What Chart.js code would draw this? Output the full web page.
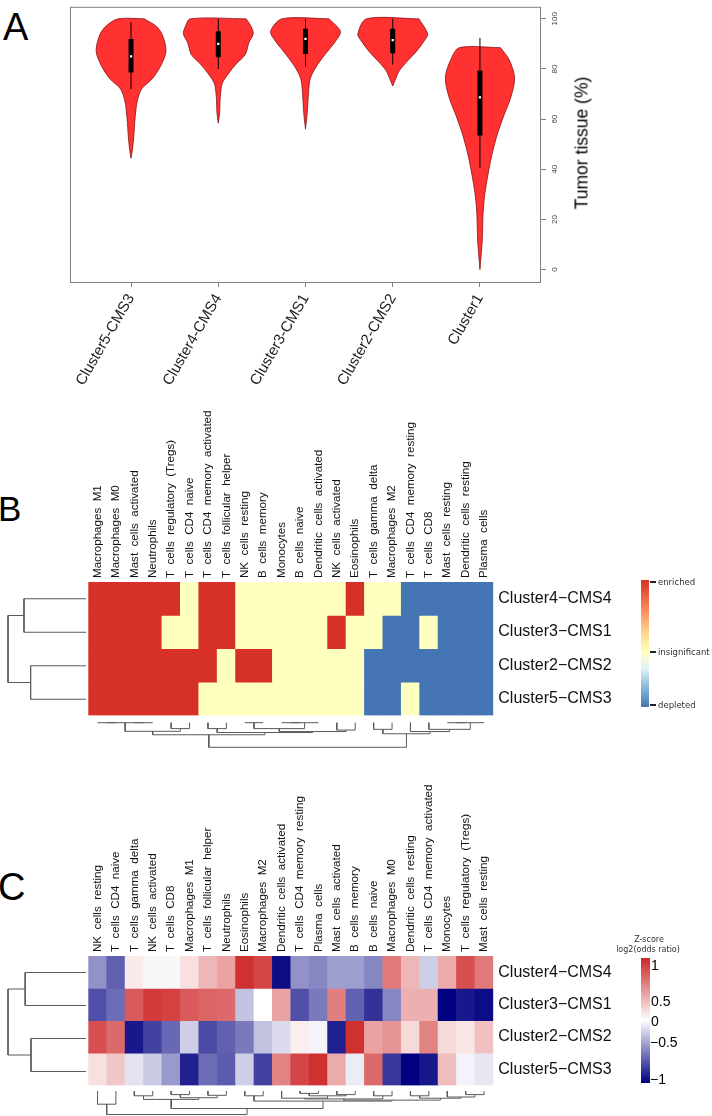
<!DOCTYPE html>
<html>
<head>
<meta charset="utf-8">
<title>Tumor tissue and immune cell enrichment by cluster</title>
<script src="https://cdn.jsdelivr.net/npm/chart.js@4.4.1/dist/chart.umd.min.js"></script>
<style>
  body { margin: 0; background: #fff; }
  #page { position: relative; width: 712px; height: 1116px; overflow: hidden; font-family: "Liberation Sans", Arial, sans-serif; color: #000; }
  #page canvas, #page .txt { position: absolute; }
  .letter { font-size: 38px; line-height: 1; }
  .mid { transform: translateY(-50%); line-height: 1; white-space: nowrap; }
  .leg { font-family: "DejaVu Sans", sans-serif; font-size: 8.5px; color: #333; }
  .tick { position: absolute; width: 6px; height: 1.5px; background: #222; }
</style>
</head>
<body>
<div id="page">
  <div class="txt letter" style="left:3px;top:8px">A</div>
  <canvas id="violins" width="712" height="400" style="left:0;top:0"></canvas>
  <div class="txt" style="left:582px;top:143px;transform:translate(-50%,-50%) rotate(-90deg);font-size:17.5px;white-space:nowrap">Tumor tissue (%)</div>

  <div class="txt letter" style="left:-2px;top:491px;font-size:35px">B</div>
  <canvas id="heatB" width="660" height="330" style="left:0;top:400px"></canvas>
  <canvas id="rowTreeB" width="88" height="134" style="left:0;top:582px"></canvas>
  <canvas id="colTreeB" width="500" height="32" style="left:0;top:718px"></canvas>
  <div class="txt" style="left:641px;top:580px;width:8px;height:127px;background:linear-gradient(to bottom,#d73027 0%,#fc8d59 24%,#fee090 44%,#ffffbf 57%,#e0f3f8 70%,#91bfdb 83%,#4575b4 100%)"></div>
  <div class="tick" style="left:650px;top:581px"></div>
  <div class="tick" style="left:650px;top:651px"></div>
  <div class="tick" style="left:650px;top:704px"></div>
  <div class="txt mid leg" style="left:658px;top:582px">enriched</div>
  <div class="txt mid leg" style="left:658px;top:652px">insignificant</div>
  <div class="txt mid leg" style="left:658px;top:705px">depleted</div>

  <div class="txt letter" style="left:-2px;top:868px">C</div>
  <canvas id="heatC" width="660" height="340" style="left:0;top:760px"></canvas>
  <canvas id="rowTreeC" width="88" height="132" style="left:0;top:956px"></canvas>
  <canvas id="colTreeC" width="500" height="30" style="left:0;top:1086px"></canvas>
  <div class="txt mid leg" style="left:649px;top:940px;font-size:8px;transform:translate(-50%,-50%)">Z-score</div>
  <div class="txt mid leg" style="left:648px;top:950px;font-size:8px;transform:translate(-50%,-50%)">log2(odds ratio)</div>
  <div class="txt" style="left:641px;top:958px;width:9px;height:125px;background:linear-gradient(to bottom,#cd2626 0%,#ffffff 50%,#000080 100%)"></div>
  <div class="txt mid" style="left:651px;top:965px;font-size:14px">1</div>
  <div class="txt mid" style="left:651px;top:1001px;font-size:14px">0.5</div>
  <div class="txt mid" style="left:651px;top:1021px;font-size:14px">0</div>
  <div class="txt mid" style="left:650px;top:1042px;font-size:14px">−0.5</div>
  <div class="txt mid" style="left:650px;top:1079px;font-size:14px">−1</div>
</div>

<script>
// ---- panel A: tumour tissue per cluster ----
const clusters = ['Cluster5-CMS3', 'Cluster4-CMS4', 'Cluster3-CMS1', 'Cluster2-CMS2', 'Cluster1'];
const tumorTicks = [0, 20, 40, 60, 80, 100];

// violin outlines: tumour tissue level (%) and density half width (share of category spacing)
const levelsCMS3 = [100, 97, 93.5, 87, 80.6, 76, 72, 67, 60.4, 53, 47.6, 44.4];
const widthsCMS3 = [0.15, 0.29, 0.36, 0.40, 0.33, 0.24, 0.12, 0.07, 0.046, 0.031, 0.015, 0];
const levelsCMS4 = [100, 96.7, 94, 90.4, 85.8, 82, 78.1, 74.2, 69, 62.5, 58.4];
const widthsCMS4 = [0.32, 0.38, 0.40, 0.35, 0.31, 0.205, 0.115, 0.045, 0.023, 0.015, 0];
const levelsCMS1 = [100, 95, 91.1, 85.9, 80.7, 76.1, 70.3, 62.5, 56];
const widthsCMS1 = [0.27, 0.40, 0.345, 0.226, 0.119, 0.054, 0.034, 0.02, 0];
const levelsCMS2 = [100, 94, 91.1, 87.2, 83.3, 79.4, 76.1, 73.2];
const widthsCMS2 = [0.30, 0.40, 0.358, 0.276, 0.172, 0.077, 0.034, 0];
const levelsC1 = [88.5, 83.7, 76.5, 68.7, 60.9, 53.1, 45.3, 37.5, 29.7, 21.9, 11.5, 0];
const widthsC1 = [0.236, 0.335, 0.397, 0.354, 0.268, 0.192, 0.134, 0.09, 0.054, 0.035, 0.026, 0];

const medians = [85, 90, 92, 91.5, 68.7];
const q1 = [78.6, 84.7, 86, 86.3, 53.5];
const q3 = [92, 95, 96, 96, 79.4];
const whiskLo = [72, 80, 81, 81.8, 40.5];
const whiskHi = [98.7, 100, 100, 100, 92.4];

// ---- panel B: enrichment (1 enriched, 0 insignificant, -1 depleted) ----
const cellsB = ['Macrophages M1', 'Macrophages M0', 'Mast cells activated', 'Neutrophils',
  'T cells regulatory (Tregs)', 'T cells CD4 naive', 'T cells CD4 memory activated', 'T cells follicular helper',
  'NK cells resting', 'B cells memory', 'Monocytes', 'B cells naive', 'Dendritic cells activated',
  'NK cells activated', 'Eosinophils', 'T cells gamma delta', 'Macrophages M2', 'T cells CD4 memory resting',
  'T cells CD8', 'Mast cells resting', 'Dendritic cells resting', 'Plasma cells'];
const rowsB = ['Cluster4−CMS4', 'Cluster3−CMS1', 'Cluster2−CMS2', 'Cluster5−CMS3'];
const enrichCMS4 = [1, 1, 1, 1, 1, 0, 1, 1, 0, 0, 0, 0, 0, 0, 1, 0, 0, -1, -1, -1, -1, -1];
const enrichCMS1 = [1, 1, 1, 1, 0, 0, 1, 1, 0, 0, 0, 0, 0, 1, 0, 0, -1, -1, 0, -1, -1, -1];
const enrichCMS2 = [1, 1, 1, 1, 1, 1, 1, 0, 1, 1, 0, 0, 0, 0, 0, -1, -1, -1, -1, -1, -1, -1];
const enrichCMS3 = [1, 1, 1, 1, 1, 1, 0, 0, 0, 0, 0, 0, 0, 0, 0, -1, -1, 0, -1, -1, -1, -1];

// ---- panel C: z-scored log2 odds ratio ----
const cellsC = ['NK cells resting', 'T cells CD4 naive', 'T cells gamma delta', 'NK cells activated',
  'T cells CD8', 'Macrophages M1', 'T cells follicular helper', 'Neutrophils', 'Eosinophils',
  'Macrophages M2', 'Dendritic cells activated', 'T cells CD4 memory resting', 'Plasma cells',
  'Mast cells activated', 'B cells memory', 'B cells naive', 'Macrophages M0', 'Dendritic cells resting',
  'T cells CD4 memory activated', 'Monocytes', 'T cells regulatory (Tregs)', 'Mast cells resting'];
const rowsC = ['Cluster4−CMS4', 'Cluster3−CMS1', 'Cluster2−CMS2', 'Cluster5−CMS3'];
const zCMS4 = [-0.45, -0.65, 0.1, -0.03, -0.03, 0.15, 0.35, 0.45, 1.0, 0.9, -1.0, -0.45, -0.5, -0.4, -0.4, -0.5, 0.65, 0.35, -0.2, 0.4, 0.85, 0.65];
const zCMS1 = [-0.72, -0.6, 0.8, 0.95, 0.92, 0.8, 0.75, 0.72, -0.25, 0, 0.45, -0.72, -0.55, 0.62, -0.65, -0.85, -0.5, 0.38, 0.38, -1.05, -0.95, -1.0];
const zCMS2 = [0.85, 0.72, -0.95, -0.78, -0.62, -0.2, -0.74, -0.65, -0.55, -0.25, -0.15, 0.08, -0.05, -0.92, 1.0, 0.45, 0.52, 0.18, 0.6, 0.18, 0.12, 0.3];
const zCMS3 = [0.15, 0.27, -0.12, -0.22, -0.42, -0.92, -0.6, -0.67, -0.2, -0.78, 0.6, 0.9, 1.0, 0.4, -0.08, 0.72, -0.82, -1.05, -0.95, 0.32, -0.05, -0.1];

// ---- dendrograms, hclust style: negative = leaf, positive = earlier merge ----
const rowTreeB = [[-1, -2, 0.795], [-3, -4, 0.71], [1, 2, 1]];
const colTreeB = [[-1, -2, 0], [-3, -4, 0], [1, 2, 0], [-5, -6, 0.24], [3, 4, 0.35], [-7, -8, 0.24],
  [-9, -10, 0], [-11, -12, 0], [8, -13, 0], [7, 9, 0.24], [-14, -15, 0.3], [10, 11, 0.36], [6, 12, 0.4],
  [5, 13, 0.49], [-16, -17, 0.27], [-20, -21, 0], [16, -22, 0], [-19, 17, 0.27], [-18, 18, 0.36],
  [15, 19, 0.45], [14, 20, 1]];
const rowTreeC = [[-1, -2, 0.78], [-3, -4, 0.705], [1, 2, 1]];
const colTreeC = [[-1, -2, 0.55], [-3, -4, 0.2], [-5, -6, 0.15], [-7, -8, 0.18], [3, 4, 0.28], [2, 5, 0.35],
  [-9, -10, 0.2], [-12, -13, 0.1], [-14, -15, 0.15], [8, 9, 0.2], [-11, 10, 0.3], [-16, -17, 0.2],
  [11, 12, 0.33], [-18, -19, 0.2], [-21, -22, 0.15], [-20, 15, 0.25], [14, 16, 0.3], [13, 17, 0.38],
  [7, 18, 0.42], [6, 19, 0.73], [1, 20, 0.98]];

const fontFamily = "'Liberation Sans', Arial, sans-serif";
const cellFont = 11.6;

// box round the plot area
const frame = {
  id: 'frame',
  afterDraw(chart) {
    const {ctx, chartArea: a} = chart;
    ctx.save();
    ctx.strokeStyle = '#808080';
    ctx.lineWidth = 1;
    ctx.strokeRect(a.left + 0.5, a.top + 0.5, a.right - a.left - 1, a.bottom - a.top - 1);
    ctx.restore();
  }
};

function violin(levels, widths, i) {
  const c = i + 1;
  const right = levels.map((y, k) => ({x: c + widths[k], y}));
  const left = levels.map((y, k) => ({x: c - widths[k], y})).reverse();
  const pts = right.concat(left);
  pts.push(pts[0]);
  return {data: pts, fill: 'shape', backgroundColor: '#ff3131', borderColor: '#8a1010',
    borderWidth: 0.8, pointRadius: 0, tension: 0.3, order: 3};
}

const violinSets = [
  violin(levelsCMS3, widthsCMS3, 0), violin(levelsCMS4, widthsCMS4, 1), violin(levelsCMS1, widthsCMS1, 2),
  violin(levelsCMS2, widthsCMS2, 3), violin(levelsC1, widthsC1, 4)
];

function segments(lo, hi) {
  const pts = [];
  clusters.forEach((_, i) => {
    pts.push({x: i + 1, y: lo[i]}, {x: i + 1, y: hi[i]}, {x: null, y: null});
  });
  return pts;
}

new Chart(document.getElementById('violins'), {
  type: 'line',
  data: {
    datasets: violinSets.concat([
      {data: segments(whiskLo, whiskHi), borderColor: '#000', borderWidth: 1, pointRadius: 0, order: 2},
      {data: segments(q1, q3), borderColor: '#000', borderWidth: 5, borderCapStyle: 'butt', pointRadius: 0, order: 1},
      {data: medians.map((m, i) => ({x: i + 1, y: m})), showLine: false, pointRadius: 1.6, pointStyle: 'rect',
        pointBackgroundColor: '#fff', pointBorderWidth: 0, order: 0}
    ])
  },
  options: {
    responsive: false, animation: false, devicePixelRatio: 1,
    layout: {padding: {left: 70, top: 1, right: 0, bottom: 0}},
    plugins: {legend: {display: false}, tooltip: {enabled: false}},
    scales: {
      x: {
        type: 'linear', min: 0.3, max: 5.7,
        grid: {drawOnChartArea: false, tickLength: 4, color: '#808080'},
        border: {display: false},
        afterBuildTicks: s => { s.ticks = clusters.map((_, i) => ({value: i + 1})); },
        ticks: {autoSkip: false, minRotation: 60, maxRotation: 60, padding: 4, color: '#222',
          font: {family: fontFamily, size: 15}, callback: (v, i) => clusters[i]},
        afterFit: s => { s.height = 117; }
      },
      y: {
        position: 'right', min: -5.35, max: 104.8,
        grid: {drawOnChartArea: false, tickLength: 5, color: '#808080'},
        border: {display: false},
        afterBuildTicks: s => { s.ticks = tumorTicks.map(v => ({value: v})); },
        ticks: {minRotation: 90, maxRotation: 90, crossAlign: 'center', padding: 2, color: '#444',
          font: {family: fontFamily, size: 8}},
        afterFit: s => { s.width = 171; }
      }
    }
  },
  plugins: [frame]
});

// ---- heatmaps ----
const enrichColors = {'1': '#d73027', '0': '#ffffbf', '-1': '#4575b4'};
const enrichColor = v => enrichColors[String(v)];

function zColor(v) {
  const t = Math.max(-1, Math.min(1, v / 1.05));
  const end = t < 0 ? [0, 0, 128] : [205, 38, 38];
  const a = Math.abs(t);
  const c = end.map(e => Math.round(255 + (e - 255) * a));
  return 'rgb(' + c.join(',') + ')';
}

function heatmap(id, cols, rows, values, colorOf, box) {
  return new Chart(document.getElementById(id), {
    type: 'bar',
    data: {
      labels: cols,
      datasets: values.map((row, r) => ({
        data: row.map(() => [r, r + 1]),
        backgroundColor: row.map(colorOf),
        grouped: false, barPercentage: 1, categoryPercentage: 1,
        borderWidth: 0, borderSkipped: false
      }))
    },
    options: {
      responsive: false, animation: false, devicePixelRatio: 1,
      layout: {padding: {left: box.left, top: 0, right: 0, bottom: box.bottom}},
      plugins: {legend: {display: false}, tooltip: {enabled: false}},
      scales: {
        x: {
          position: 'top',
          grid: {display: false, drawTicks: false}, border: {display: false},
          // rotated labels on a top axis sit one line height to the left, so shift them back
          ticks: {autoSkip: false, minRotation: 90, maxRotation: 90, padding: 4, color: '#111',
            labelOffset: cellFont * 1.2,
            font: {family: fontFamily, size: cellFont},
            callback: (v, i) => cols[i].split(' ').join('  ')},
          afterFit: s => { s.height = box.top; }
        },
        y: {
          position: 'right', min: 0, max: rows.length, reverse: true,
          grid: {display: false, drawTicks: false}, border: {display: false},
          afterBuildTicks: s => { s.ticks = rows.map((_, i) => ({value: i + 0.5})); },
          ticks: {padding: 5, color: '#111', font: {family: fontFamily, size: 16}, callback: (v, i) => rows[i]},
          afterFit: s => { s.width = box.right; }
        }
      }
    }
  });
}

heatmap('heatB', cellsB, rowsB, [enrichCMS4, enrichCMS1, enrichCMS2, enrichCMS3], enrichColor,
  {left: 88.3, top: 182, right: 166.7, bottom: 13.6});
heatmap('heatC', cellsC, rowsC, [zCMS4, zCMS1, zCMS2, zCMS3], zColor,
  {left: 88.3, top: 196, right: 166.7, bottom: 12});

// ---- dendrograms ----
function dendrogram(id, merges, nLeaves, alongX, pad) {
  const pos = [], hgt = [], pts = [];
  const node = k => k < 0 ? {p: -k - 1, h: 0} : {p: pos[k - 1], h: hgt[k - 1]};
  merges.forEach(([a, b, h]) => {
    const A = node(a), B = node(b);
    [[A.p, A.h], [A.p, h], [B.p, h], [B.p, B.h]].forEach(([p, hh]) => {
      pts.push(alongX ? {x: p, y: hh} : {x: hh, y: p});
    });
    pts.push({x: null, y: null});
    pos.push((A.p + B.p) / 2);
    hgt.push(h);
  });
  const leafAxis = {type: 'linear', display: false, min: -0.5, max: nLeaves - 0.5};
  const heightAxis = {type: 'linear', display: false, min: 0, max: 1, reverse: true};
  return new Chart(document.getElementById(id), {
    type: 'line',
    data: {datasets: [{data: pts, borderColor: '#5a5a5a', borderWidth: 1, pointRadius: 0, tension: 0, clip: false}]},
    options: {
      responsive: false, animation: false, devicePixelRatio: 1,
      layout: {padding: pad},
      plugins: {legend: {display: false}, tooltip: {enabled: false}},
      scales: alongX
        ? {x: leafAxis, y: heightAxis}
        : {x: heightAxis, y: Object.assign({}, leafAxis, {reverse: true})}
    }
  });
}

dendrogram('rowTreeB', rowTreeB, 4, false, {left: 8, right: 2, top: 0, bottom: 0});
dendrogram('colTreeB', colTreeB, 22, true, {left: 88.3, right: 6.7, top: 4.7, bottom: 2.7});
dendrogram('rowTreeC', rowTreeC, 4, false, {left: 8, right: 2, top: 0, bottom: 0});
dendrogram('colTreeC', colTreeC, 22, true, {left: 88.3, right: 6.7, top: 5, bottom: 1});
</script>
</body>
</html>
